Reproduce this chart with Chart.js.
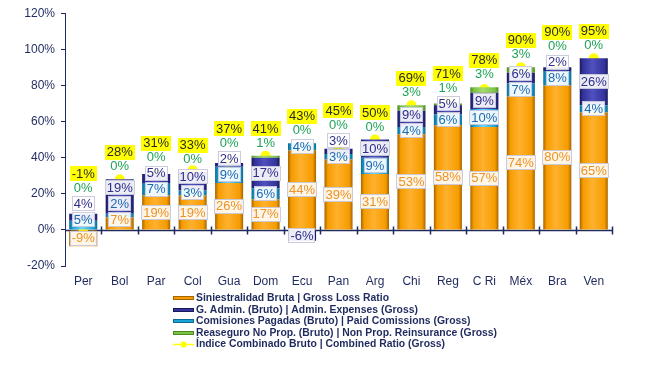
<!DOCTYPE html>
<html>
<head>
<meta charset="utf-8">
<script src="https://cdn.jsdelivr.net/npm/chart.js@4/dist/chart.umd.min.js"></script>
<style>
  html, body { margin: 0; padding: 0; background: #fff; }
  #wrap { width: 658px; height: 370px; }
</style>
</head>
<body>
<div id="wrap"><canvas id="chart" width="658" height="370"></canvas></div>
<script>
const countries = ['Per', 'Bol', 'Par', 'Col', 'Gua', 'Dom', 'Ecu', 'Pan', 'Arg', 'Chi', 'Reg', 'C Ri', 'Méx', 'Bra', 'Ven'];
const lossRatio   = [-9, 7, 19, 19, 26, 17, 44, 39, 31, 53, 58, 57, 74, 80, 65];
const commissions = [5, 2, 7, 3, 9, 6, 4, 3, 9, 4, 6, 10, 7, 8, 4];
const adminExp    = [4, 19, 5, 10, 2, 17, -6, 3, 10, 9, 5, 9, 6, 2, 26];
const reinsurance = [0, 0, 0, 0, 0, 1, 0, 0, 0, 3, 1, 3, 3, 0, 0];
const combined    = [-1, 28, 31, 33, 37, 41, 43, 45, 50, 69, 71, 78, 90, 90, 95];
const yTicks = [-20, 0, 20, 40, 60, 80, 100, 120];

const NAVY = '#1f2a5e';
const FONT = 'Arial, "Liberation Sans", sans-serif';
const BAR_PCT = 0.77;

// horizontal gradient per bar to get the bevelled look
function barFill(base, edge, light) {
    return ctx => {
        const chart = ctx.chart;
        const x = chart.scales.x;
        if (!x || !chart.chartArea || ctx.dataIndex === undefined) return base;
        const cx = x.getPixelForValue(ctx.dataIndex);
        const half = x.width / countries.length * BAR_PCT / 2;
        if (!half) return base;
        const g = chart.ctx.createLinearGradient(cx - half, 0, cx + half, 0);
        g.addColorStop(0, edge);
        g.addColorStop(0.12, base);
        g.addColorStop(0.45, light);
        g.addColorStop(0.88, base);
        g.addColorStop(1, edge);
        return g;
    };
}

const series = [
    { label: 'Siniestralidad Bruta | Gross Loss Ratio', data: lossRatio, base: '#f59c00', edge: '#a86400', light: '#ffb12e', text: '#ec9226' },
    { label: 'Comisiones Pagadas (Bruto) | Paid Comissions (Gross)', data: commissions, base: '#1aa3d6', edge: '#0b6b92', light: '#6fd6f7', text: '#1f68b0' },
    { label: 'G. Admin. (Bruto) | Admin. Expenses (Gross)', data: adminExp, base: '#33339a', edge: '#191960', light: '#5050c0', text: '#2e2e8c' },
    { label: 'Reaseguro No Prop. (Bruto) | Non Prop. Reinsurance (Gross)', data: reinsurance, base: '#7cc242', edge: '#4a8a20', light: '#a6dc70', text: '#1fa356' }
];

const legendItems = [
    { text: series[0].label, color: series[0].base, edge: series[0].edge },
    { text: series[2].label, color: series[2].base, edge: series[2].edge },
    { text: series[1].label, color: series[1].base, edge: series[1].edge },
    { text: series[3].label, color: series[3].base, edge: series[3].edge },
    { text: 'Índice Combinado Bruto | Combined Ratio (Gross)', color: '#ffff00', line: true }
];

// zero line with the category tick marks crossing it
const zeroAxis = {
    id: 'zeroAxis',
    beforeDatasetsDraw(chart) {
        const { ctx, chartArea, scales: { y } } = chart;
        const y0 = Math.round(y.getPixelForValue(0)) + 0.5;
        const step = (chartArea.right - chartArea.left) / countries.length;
        ctx.save();
        ctx.strokeStyle = NAVY;
        ctx.lineWidth = 1.5;
        ctx.beginPath();
        ctx.moveTo(chartArea.left, y0);
        ctx.lineTo(chartArea.right, y0);
        for (let k = 1; k <= countries.length; k++) {
            const xk = Math.round(chartArea.left + k * step) + 0.5;
            ctx.moveTo(xk, y0 - 4);
            ctx.lineTo(xk, y0 + 4);
        }
        ctx.stroke();
        ctx.restore();
    }
};

function drawTag(ctx, text, cx, cy, box, color) {
    const w = ctx.measureText(text).width;
    if (box) {
        const bx = Math.round(cx - w / 2 - 2), by = Math.round(cy - 7.5), bw = Math.round(w + 4);
        ctx.fillStyle = box;
        ctx.fillRect(bx, by, bw, 15);
        if (box !== '#ffff00') {
            ctx.strokeStyle = 'rgba(170,170,200,0.6)';
            ctx.lineWidth = 1;
            ctx.strokeRect(bx + 0.5, by + 0.5, bw - 1, 14);
        }
    }
    ctx.fillStyle = color;
    ctx.fillText(text, cx, cy + 0.5);
}

// value labels, pushed upwards when they would overlap
const valueLabels = {
    id: 'valueLabels',
    afterDatasetsDraw(chart) {
        const ctx = chart.ctx;
        const y0 = chart.scales.y.getPixelForValue(0);
        ctx.save();
        ctx.font = '13px ' + FONT;
        ctx.textAlign = 'center';
        ctx.textBaseline = 'middle';
        countries.forEach((c, i) => {
            let prev = y0 - 10 + 16;
            let cx = 0;
            series.forEach((s, d) => {
                const el = chart.getDatasetMeta(d).data[i];
                const v = s.data[i];
                cx = el.x;
                let cy = (el.y + el.base) / 2;
                const box = d === 3 ? null : 'rgba(255,255,255,0.9)';
                if (v < 0) {
                    drawTag(ctx, v + '%', cx, cy, box, s.text);
                    return;
                }
                if (d === 3) cy = el.y - 13;
                cy = Math.min(cy, prev - 16);
                prev = cy;
                drawTag(ctx, v + '%', cx, cy, box, s.text);
            });
            const pt = chart.getDatasetMeta(4).data[i];
            const cy = Math.min(pt.y - 14, prev - 14);
            drawTag(ctx, combined[i] + '%', cx, cy, '#ffff00', '#2b2b2b');
        });
        ctx.restore();
    }
};

const customLegend = {
    id: 'customLegend',
    afterDraw(chart) {
        const ctx = chart.ctx;
        ctx.save();
        ctx.font = 'bold 10px ' + FONT;
        ctx.textBaseline = 'middle';
        ctx.textAlign = 'left';
        legendItems.forEach((it, k) => {
            const yr = Math.round(298 + k * 11.6);
            if (it.line) {
                ctx.strokeStyle = it.color;
                ctx.lineWidth = 1.5;
                ctx.beginPath();
                ctx.moveTo(173, yr + 0.5);
                ctx.lineTo(194, yr + 0.5);
                ctx.stroke();
                ctx.fillStyle = it.color;
                ctx.beginPath();
                ctx.arc(183.5, yr + 0.5, 3, 0, Math.PI * 2);
                ctx.fill();
            } else {
                ctx.fillStyle = it.color;
                ctx.fillRect(173, yr - 2, 21, 4);
                ctx.strokeStyle = it.edge;
                ctx.lineWidth = 1;
                ctx.strokeRect(173.5, yr - 1.5, 20, 3);
            }
            ctx.fillStyle = NAVY;
            ctx.save();
            ctx.translate(196, yr);
            ctx.scale(1.04, 1);
            ctx.fillText(it.text, 0, 0);
            ctx.restore();
        });
        ctx.restore();
    }
};

const datasets = series.map(s => ({
    type: 'bar',
    label: s.label,
    data: s.data,
    backgroundColor: barFill(s.base, s.edge, s.light),
    borderWidth: 0,
    barPercentage: BAR_PCT,
    categoryPercentage: 1
}));
datasets.push({
    type: 'line',
    label: legendItems[4].text,
    data: combined,
    stack: 'combined',
    showLine: false,
    pointRadius: 5,
    pointBackgroundColor: '#ffff00',
    pointBorderColor: '#f2f200',
    pointBorderWidth: 0
});

new Chart(document.getElementById('chart'), {
    data: { labels: countries, datasets },
    options: {
        responsive: false,
        animation: false,
        devicePixelRatio: 1,
        layout: { padding: { top: 0, left: 0, right: 46, bottom: 73 } },
        plugins: { legend: { display: false }, tooltip: { enabled: false } },
        scales: {
            x: {
                stacked: true,
                grid: { display: false, drawTicks: false },
                border: { display: false },
                ticks: { color: NAVY, font: { size: 12, family: FONT }, padding: 8 },
                afterFit(s) { s.height = 31; }
            },
            y: {
                stacked: true,
                min: -20,
                max: 120,
                afterBuildTicks(s) { s.ticks = yTicks.map(v => ({ value: v })); },
                ticks: { color: NAVY, font: { size: 12, family: FONT }, padding: 6, callback: v => v + '%' },
                grid: { drawOnChartArea: false, tickLength: 4, color: NAVY },
                border: { color: NAVY, width: 1 },
                afterFit(s) { s.width = 65; }
            }
        }
    },
    plugins: [zeroAxis, valueLabels, customLegend]
});
</script>
</body>
</html>
